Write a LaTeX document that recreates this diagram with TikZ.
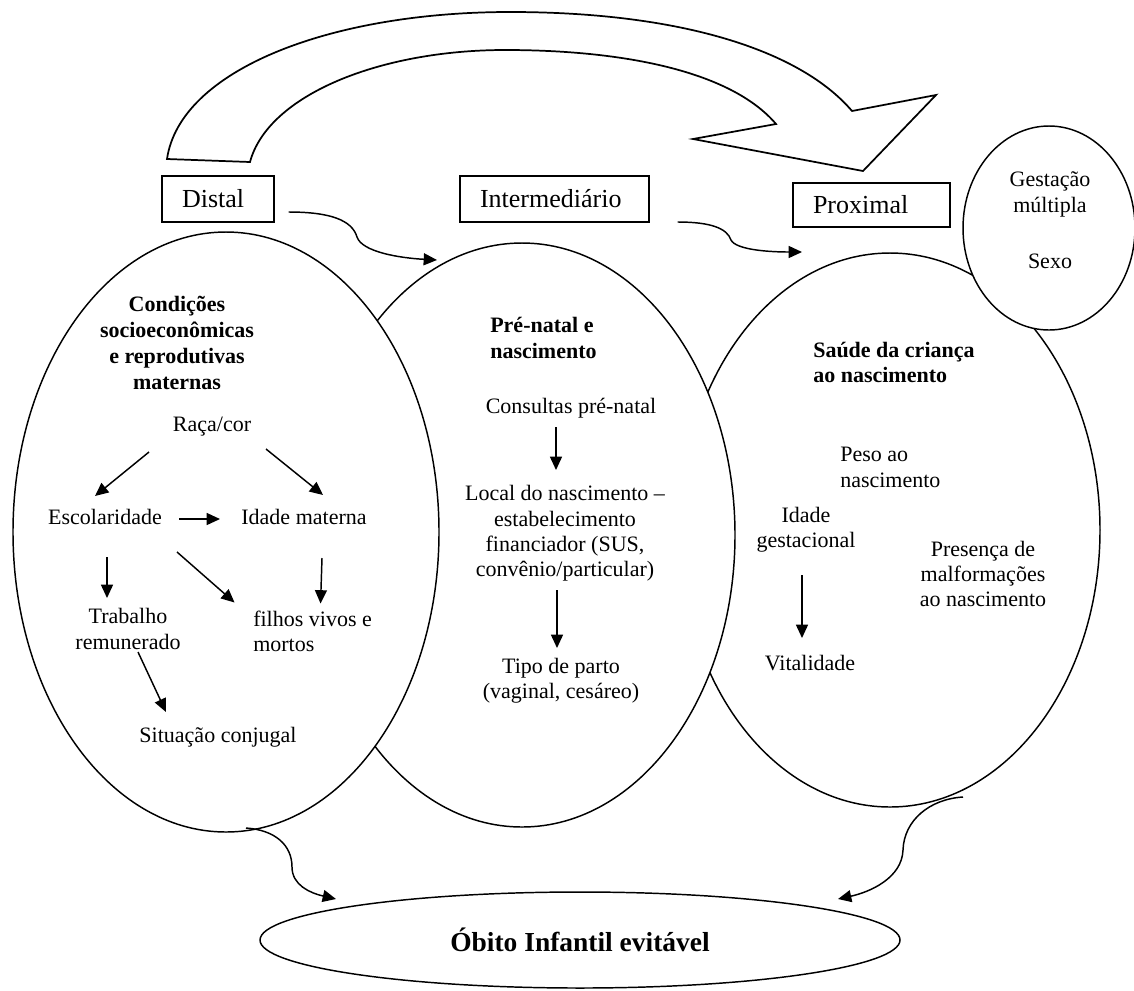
\documentclass[tikz,border=0pt]{standalone}
\usepackage{fontspec}
\setmainfont{Liberation Serif}
\usetikzlibrary{shapes.geometric,arrows.meta}
\begin{document}
\begin{tikzpicture}[x=0.75pt,y=-0.75pt,
  txt/.style={inner sep=0pt, font=\fontsize{16.5}{19}\selectfont, align=center},
  txtl/.style={inner sep=0pt, font=\fontsize{16.5}{19}\selectfont, align=left, anchor=west},
  hdr/.style={inner sep=0pt, font=\fontsize{16.5}{19.3}\selectfont\bfseries, align=center},
  hdrl/.style={inner sep=0pt, font=\fontsize{16.5}{19.3}\selectfont\bfseries, align=left, anchor=west},
  boxst/.style={draw, line width=0.8pt, inner ysep=0pt, inner xsep=15pt, align=left, font=\fontsize{19.5}{23}\selectfont},
  ell/.style={ellipse, draw, line width=1.1pt, fill=white, inner sep=0pt},
  arr/.style={line width=1.1pt, -{Triangle[length=10pt,width=9pt]}},
  conn/.style={line width=1.1pt, -{Triangle[length=10pt,width=9pt]}},
]
\useasboundingbox (0,0) rectangle (1134,990);

% big curved arrow
\draw[line width=1.3pt, line join=miter] (250,162) -- (167,159)
  .. controls (180,70) and (330,12) .. (510,12)
  .. controls (680,12) and (800,50) .. (852,111)
  -- (936,95) -- (863,171) -- (693,139) -- (776,124)
  .. controls (730,70) and (620,50) .. (505,50)
  .. controls (380,50) and (268,95) .. (250,162) -- cycle;

% boxes
\node[boxst, minimum height=34.5pt, text width=54pt] (distal) at (218,199) {Distal};
\node[boxst, minimum height=34.5pt, text width=111.75pt] (inter) at (554.5,199) {Intermediário};
\node[boxst, minimum height=33pt, text width=87.75pt] (prox) at (871.5,205) {Proximal};

% ellipses
\node[ell, minimum width=315pt, minimum height=415.5pt] (rightE) at (890,530) {};
\node[ell, minimum width=319.5pt, minimum height=438pt] (midE) at (522,535) {};
\node[ell, minimum width=319.5pt, minimum height=450pt] (leftE) at (226,532) {};
\node[ell, minimum width=129pt, minimum height=153pt] (smallE) at (1049,228) {};
\node[ell, minimum width=480pt, minimum height=72pt, font=\fontsize{20.6}{24}\selectfont\bfseries] (obito) at (580,940) {Óbito Infantil evitável};

% connectors
\coordinate (c1a) at ([shift={(14,13)}]distal.east);
\coordinate (c1b) at (437,260);
\draw[conn] (c1a) .. controls (330,212) and (352,220) .. (357,237)
  .. controls (362,252) and (400,258) .. (c1b);
\coordinate (c2a) at ([shift={(28,23)}]inter.east);
\coordinate (c2b) at (802,252);
\draw[conn] (c2a) .. controls (710,222) and (727,228) .. (731,240)
  .. controls (736,250) and (770,252) .. (c2b);
\coordinate (c3a) at (246,828);
\coordinate (c3b) at (336,899);
\draw[conn] (c3a) .. controls (275,830) and (292,845) .. (292,867)
  .. controls (292,885) and (310,893) .. (c3b);
\coordinate (c4a) at (963,797);
\coordinate (c4b) at (838,899);
\draw[conn] (c4a) .. controls (930,799) and (904,820) .. (903,850)
  .. controls (902,878) and (870,892) .. (c4b);

% small ellipse text
\node[txt] (gest) at (1050,194.5) {Gestação\\múltipla};
\node[txt] (sexo) at (1050,261) {Sexo};

% left ellipse
\node[hdr] (hleft) at (177,343) {Condições\\socioeconômicas\\e reprodutivas\\maternas};
\node[txt] (raca) at (212,427) {Raça/cor};
\node[txt] (escol) at (105,517) {Escolaridade};
\node[txt] (idade) at (304,517) {Idade materna};
\node[txt] (trab) at (128,629) {Trabalho\\remunerado};
\node[txtl] (filhos) at (253,631.5) {filhos vivos e\\mortos};
\node[txt] (situ) at (218,737) {Situação conjugal};

\draw[arr] ([shift={(-63,25)}]raca.center) -- ([shift={(-10,-21)}]escol.center);
\draw[arr] ([shift={(54,22)}]raca.center) -- ([shift={(19,-22)}]idade.center);
\draw[arr] ([shift={(74,2)}]escol.center) -- ([shift={(-84,2)}]idade.center);
\draw[arr] ([shift={(2,40)}]escol.center) -- ([shift={(-21,-31)}]trab.center);
\draw[arr] ([shift={(72,35)}]escol.center) -- ([shift={(-78,-29)}]filhos.center);
\draw[arr] ([shift={(18,41)}]idade.center) -- ([shift={(8,-28)}]filhos.center);
\draw[arr] ([shift={(10,23)}]trab.center) -- ([shift={(-52,-25)}]situ.center);

% middle ellipse
\node[hdrl] (hmid) at (490,338) {Pré-natal e\\nascimento};
\node[txt] (consult) at (571,408) {Consultas pré-natal};
\node[txt] (local) at (565,533.5) {Local do nascimento –\\estabelecimento\\financiador (SUS,\\convênio/particular)};
\node[txt] (tipo) at (561,680.5) {Tipo de parto\\(vaginal, cesáreo)};
\draw[arr] ([shift={(-15,19)}]consult.center) -- ([shift={(-9,-63.5)}]local.center);
\draw[arr] ([shift={(-8,56.5)}]local.center) -- ([shift={(-4,-32.5)}]tipo.center);

% right ellipse
\node[hdrl] (hright) at (813,362.5) {Saúde da criança\\ao nascimento};
\node[txtl] (peso) at (840,467.5) {Peso ao\\nascimento};
\node[txt] (idadeg) at (806,530) {Idade\\gestacional};
\node[txt] (pres) at (983,574) {Presença de\\malformações\\ao nascimento};
\node[txt] (vital) at (810,663) {Vitalidade};
\draw[arr] ([shift={(-4,45)}]idadeg.center) -- ([shift={(-8,-25)}]vital.center);
\end{tikzpicture}
\end{document}
